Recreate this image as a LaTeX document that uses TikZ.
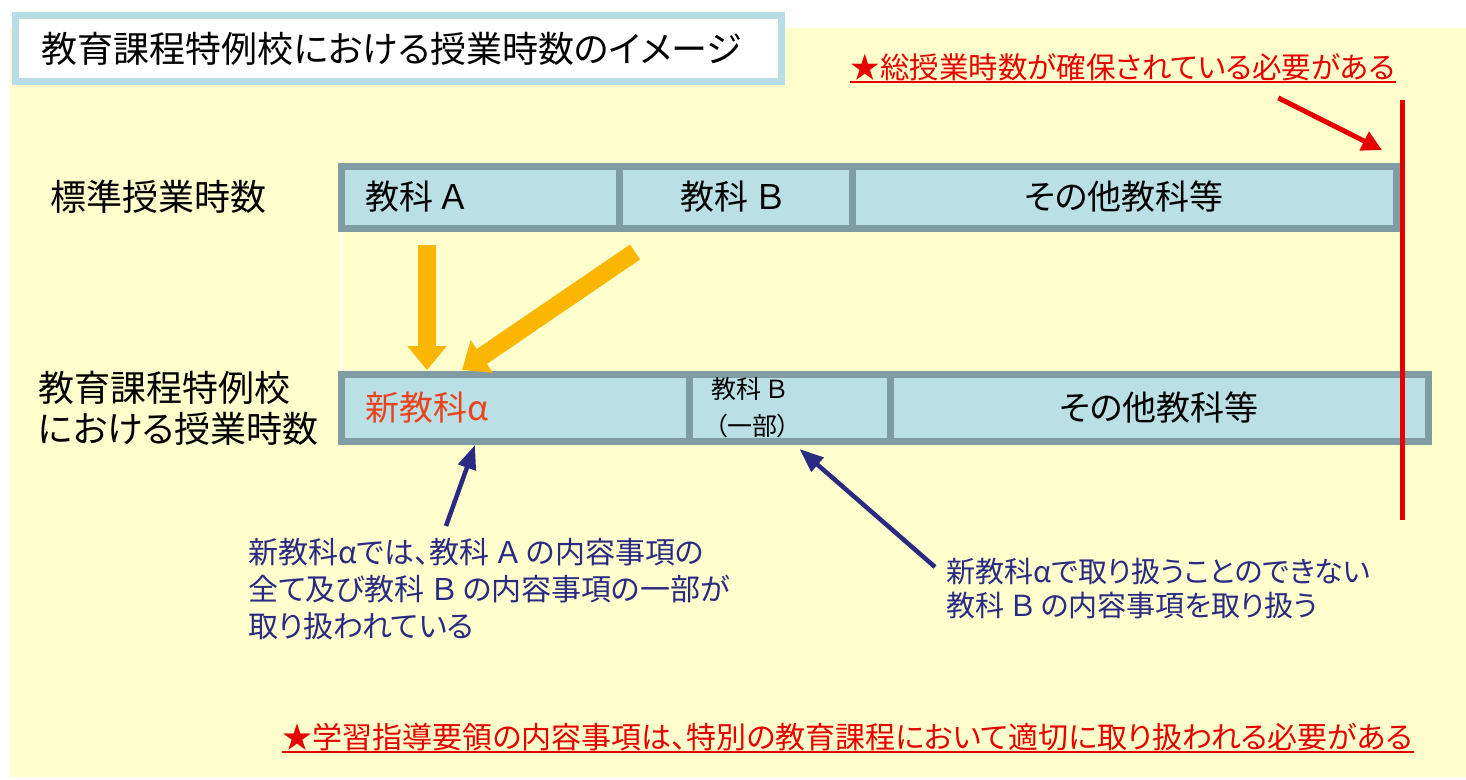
\documentclass[tikz,border=0pt]{standalone}
\usepackage{fontspec}
\setmainfont{Noto Sans CJK JP}[RawFeature=+palt]
\usepackage{tikz}
\usetikzlibrary{arrows.meta, positioning}
\definecolor{bgyellow}{RGB}{255,255,206}
\definecolor{titleframe}{RGB}{184,221,228}
\definecolor{barline}{RGB}{128,156,163}
\definecolor{barfill}{RGB}{186,224,230}
\definecolor{gold}{RGB}{250,182,0}
\definecolor{navy}{RGB}{42,42,130}
\definecolor{alertred}{RGB}{230,0,0}
\definecolor{newred}{RGB}{235,66,30}
\newcommand{\setsize}[2]{\fontsize{#1}{#2}\selectfont}
\newcommand{\wl}[1]{\kern0.22em#1\kern0.22em}

\begin{document}
\begin{tikzpicture}[
        x=1pt, y=-1pt,
        titlebox/.style={rectangle, draw=titleframe, fill=white, line width=7pt, outer sep=0pt, inner xsep=26pt, inner ysep=0pt, text width=714pt, minimum height=66pt, align=left, font=\setsize{36pt}{40pt}},
        rowlabel/.style={align=left, inner sep=0pt, font=\setsize{36pt}{41pt}},
        cell/.style={rectangle, draw=barline, fill=barfill, line width=7pt, outer sep=0pt, inner xsep=0pt, inner ysep=0pt, minimum height=62pt, font=\setsize{34pt}{40pt}},
        lowcell/.style={cell, minimum height=67pt},
        note/.style={text=navy, align=left, inner sep=0pt, font=\setsize{30pt}{37pt}},
        alert/.style={text=alertred, inner sep=1pt, font=\setsize{30pt}{34pt}},
        golden/.style={draw=gold, line width=18pt, -{Triangle[width=38pt, length=24pt]}},
        pointer/.style={draw=navy, line width=4.5pt, -{Triangle[width=18pt, length=24pt]}},
        redline/.style={draw=alertred, line width=5pt}
    ]

    % 背景
    \fill[white] (0,0) rectangle (1466,779);
    \fill[bgyellow] (10,28) rectangle (1466,777);
    \useasboundingbox (0,0) rectangle (1466,779);

    % タイトル
    \node[titlebox, anchor=north west] (title) at (15.5,15.5) {教育課程特例校における授業時数のイメージ};
    \node[alert, font=\setsize{29.5pt}{34pt}] (topnote) at (1123,67) {★総授業時数が確保されている必要がある};
    \draw[alertred, line width=2.5pt] (topnote.south west) -- (topnote.south east);

    % 標準授業時数
    \node[rowlabel, anchor=west] (stdlabel) at (50,197) {標準授業時数};
    \node[cell, text width=278pt, align=left, anchor=west] (subjA) at (341,197) {\hspace*{24pt}教科\wl{Ａ}};
    \node[cell, text width=233pt, align=center, right=0pt of subjA] (subjB) {教科\wl{Ｂ}};
    \node[cell, text width=544pt, align=center, right=0pt of subjB] (others) {その他教科等};

    % 教育課程特例校における授業時数
    \node[rowlabel, anchor=west] (speclabel) at (38,408) {教育課程特例校\\における授業時数};
    \node[lowcell, text width=348pt, align=left, anchor=west] (newsubj) at (341,407.5) {\hspace*{24pt}\textcolor{newred}{新教科α}};
    \node[lowcell, text width=201pt, align=left, font=\setsize{25pt}{37pt}, right=0pt of newsubj] (partB) {\hspace*{22pt}教科\wl{Ｂ}\\\hspace*{26pt}（一部）};
    \node[lowcell, text width=538pt, align=center, right=0pt of partB] (others2) {その他教科等};

    \draw[white, line width=1.5pt] ([yshift=-3.5pt]subjA.south west) -- ([yshift=3.5pt]newsubj.north west);

    % 説明
    \node[note, anchor=north west] (noteA) at (248,538) {新教科αでは、教科\wl{Ａ}の内容事項の\\全て及び教科\wl{Ｂ}の内容事項の一部が\\取り扱われている};
    \node[note, anchor=north west, font=\setsize{29pt}{34pt}] (noteB) at (946,558) {新教科αで取り扱うことのできない\\教科\wl{Ｂ}の内容事項を取り扱う};
    \node[alert] (bottomnote) at (848,737) {★学習指導要領の内容事項は、特別の教育課程において適切に取り扱われる必要がある};
    \draw[alertred, line width=2.5pt] (bottomnote.south west) -- (bottomnote.south east);

    % 総授業時数
    \coordinate (limit top) at (1402,100);
    \coordinate (limit bottom) at (1402,520);
    \path[redline] (limit top) -- (limit bottom);

    % 矢印
    \path[golden] ([xshift=86pt, yshift=-17pt]subjA.south west) -- ([xshift=86pt, yshift=4pt]newsubj.north west);
    \path[golden] ([xshift=16pt, yshift=-24pt]subjB.south west) -- ([xshift=121pt, yshift=4pt]newsubj.north west);
    \path[pointer] ([xshift=198pt, yshift=12pt]noteA.north west) -- ([xshift=134pt, yshift=-4pt]newsubj.south west);
    \path[pointer] ([xshift=-11pt, yshift=-9pt]noteB.north west) -- ([xshift=10pt, yshift=-8pt]partB.south);
    \path[redline, -{Triangle[width=20pt, length=20pt]}] ([xshift=-118pt, yshift=-16pt]topnote.south east) -- ([xshift=-20pt, yshift=-50pt]limit top);

\end{tikzpicture}
\end{document}
